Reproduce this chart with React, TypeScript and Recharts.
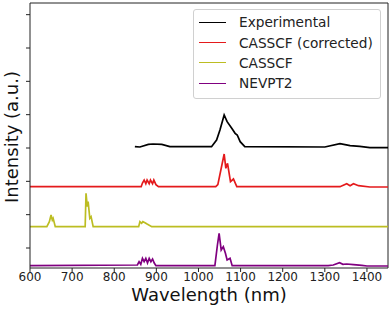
import { LineChart, Line, XAxis, YAxis, ReferenceLine, Legend } from 'recharts';

// wavelengths (nm) and offset intensities
const expNm = [849, 861, 881, 892, 913, 932, 1031, 1043, 1051, 1061, 1068, 1079, 1087, 1092, 1099, 1110, 1300, 1336, 1360, 1383, 1407, 1450];
const expVal = [3.04, 3.03, 3.11, 3.12, 3.11, 3.04, 3.04, 3.24, 3.54, 3.99, 3.79, 3.59, 3.44, 3.39, 3.19, 3.04, 3.03, 3.13, 3.07, 3.05, 3.01, 3.01];

const corrNm = [600, 864, 867, 871, 875, 878, 883, 886, 891, 894, 899, 905, 1041, 1046, 1061, 1065, 1069, 1076, 1083, 1091, 1336, 1352, 1360, 1368, 1380, 1407, 1450];
const corrVal = [1.84, 1.84, 1.95, 2.04, 1.93, 2.04, 1.93, 2.04, 1.93, 2.04, 1.9, 1.84, 1.84, 1.9, 2.82, 2.39, 2.54, 1.99, 2.07, 1.84, 1.84, 1.93, 1.87, 1.93, 1.87, 1.83, 1.83];

const casNm = [600, 640, 646, 650, 653, 655, 660, 731, 733, 736, 738, 742, 745, 750, 858, 861, 865, 868, 873, 878, 889, 1450];
const casVal = [0.64, 0.64, 0.79, 0.99, 0.84, 0.89, 0.64, 0.64, 1.64, 1.24, 1.39, 0.89, 0.94, 0.64, 0.64, 0.79, 0.74, 0.79, 0.76, 0.72, 0.64, 0.64];

const nevNm = [600, 855, 859, 863, 867, 871, 875, 879, 883, 887, 891, 895, 899, 1039, 1045, 1049, 1054, 1059, 1064, 1068, 1075, 1080, 1308, 1320, 1335, 1343, 1352, 1368, 1388, 1400, 1450];
const nevVal = [-0.53, -0.51, -0.41, -0.49, -0.31, -0.41, -0.31, -0.45, -0.31, -0.41, -0.33, -0.45, -0.53, -0.53, 0.09, 0.44, -0.06, 0.04, -0.16, -0.36, -0.31, -0.53, -0.53, -0.51, -0.44, -0.49, -0.48, -0.5, -0.52, -0.54, -0.54];

const xTicks = [600, 700, 800, 900, 1000, 1100, 1200, 1300, 1400];
const yTicks = [0, 1, 2, 3, 4, 5, 6, 7];

const toPoints = (nm: number[], v: number[]) => nm.map((x, i) => ({ nm: x, v: v[i] }));

const series = [
  { name: 'Experimental', color: '#000000', data: toPoints(expNm, expVal) },
  { name: 'CASSCF (corrected)', color: '#e41a1c', data: toPoints(corrNm, corrVal) },
  { name: 'CASSCF', color: '#bcbd22', data: toPoints(casNm, casVal) },
  { name: 'NEVPT2', color: '#800080', data: toPoints(nevNm, nevVal) },
];

const font = '"DejaVu Sans", sans-serif';
const axisColor = '#222';

function LegendBox() {
  return (
    <div
      style={{
        border: '1px solid #d0d0d0',
        borderRadius: 3,
        background: 'rgba(255,255,255,0.85)',
        padding: '2px 0 4px 0',
        fontFamily: font,
        fontSize: 13.7,
        color: '#222',
      }}
    >
      {series.map((s) => (
        <div key={s.name} style={{ display: 'flex', alignItems: 'center', height: 20.4 }}>
          <div style={{ width: 27, height: 0, borderTop: `1.5px solid ${s.color}`, marginLeft: 5, marginRight: 13 }} />
          <span>{s.name}</span>
        </div>
      ))}
    </div>
  );
}

export default function App() {
  return (
    <div style={{ position: 'absolute', left: 0, top: 0, width: 390, height: 309, background: '#fff' }}>
      <LineChart width={390} height={309} margin={{ top: 3, right: 2, bottom: 0, left: 0 }}>
        <XAxis
          dataKey="nm"
          type="number"
          domain={[600, 1450]}
          ticks={xTicks}
          allowDataOverflow
          height={41}
          stroke={axisColor}
          tickSize={4}
          tickMargin={0}
          tick={{ fontSize: 12, fill: '#222', fontFamily: font }}
          label={{
            content: () => (
              <text x={209} y={301} textAnchor="middle" fontSize={18} fill="#111" fontFamily={font}>
                Wavelength (nm)
              </text>
            ),
          }}
        />
        <YAxis
          type="number"
          domain={[-0.6, 7.35]}
          ticks={yTicks}
          allowDataOverflow
          width={30}
          stroke={axisColor}
          tickSize={4}
          tick={() => <g />}
          label={{
            content: () => (
              <text
                x={11}
                y={137}
                transform="rotate(-90, 11, 137)"
                textAnchor="middle"
                dominantBaseline="central"
                fontSize={18}
                fill="#111"
                fontFamily={font}
              >
                Intensity (a.u.)
              </text>
            ),
          }}
        />
        <ReferenceLine y={7.35} stroke={axisColor} />
        <ReferenceLine x={1450} stroke={axisColor} />
        {series.map((s) => (
          <Line
            key={s.name}
            data={s.data}
            dataKey="v"
            name={s.name}
            type="linear"
            stroke={s.color}
            strokeWidth={1.7}
            dot={false}
            isAnimationActive={false}
          />
        ))}
        <Legend
          layout="horizontal"
          verticalAlign="middle"
          align="center"
          content={() => <LegendBox />}
          wrapperStyle={{ top: 9, left: 193, width: 188 }}
        />
      </LineChart>
    </div>
  );
}
